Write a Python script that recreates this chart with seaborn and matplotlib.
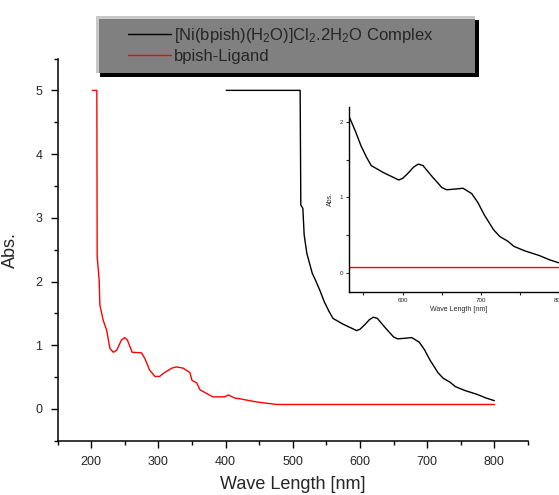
import matplotlib
matplotlib.use("Agg")
import matplotlib.pyplot as plt
from matplotlib.patches import Rectangle
import pandas as pd
import seaborn as sns

# UV-Vis spectra
complex_wl = [401, 511, 512, 515, 517, 521, 529, 533, 540, 547, 554, 560, 575, 595, 600,
              607, 614, 620, 626, 638, 650, 656, 668, 677, 688, 696, 704, 716, 724, 734,
              742, 756, 774, 788, 800]
complex_abs = [5.0, 5.0, 3.2, 3.15, 2.73, 2.44, 2.13, 2.04, 1.87, 1.68, 1.53, 1.42, 1.33, 1.23, 1.25,
               1.32, 1.40, 1.44, 1.42, 1.27, 1.13, 1.10, 1.11, 1.12, 1.05, 0.93, 0.77, 0.57, 0.48, 0.42,
               0.35, 0.29, 0.23, 0.17, 0.13]

ligand_wl = [202, 208.5, 209, 212, 213, 218, 223, 228, 233, 238, 245, 250, 254, 261, 275,
             280, 287, 295, 302, 309, 320, 327, 337, 347, 350, 357, 362, 369, 381, 399,
             404, 414, 421, 446, 476, 800]
ligand_abs = [5.0, 5.0, 2.39, 2.02, 1.63, 1.39, 1.24, 0.95, 0.89, 0.92, 1.08, 1.12, 1.08, 0.89, 0.88,
              0.79, 0.61, 0.51, 0.51, 0.57, 0.64, 0.66, 0.64, 0.57, 0.45, 0.41, 0.30, 0.26, 0.19, 0.19,
              0.22, 0.17, 0.16, 0.11, 0.07, 0.07]

complex_label = r"[Ni(bpish)(H$_2$O)]Cl$_2$.2H$_2$O Complex"
ligand_label = "bpish-Ligand"

sns.set_style("ticks")
plt.rcParams["font.family"] = ["Liberation Sans", "DejaVu Sans"]
plt.rcParams["mathtext.fontset"] = "custom"
plt.rcParams["mathtext.rm"] = "Liberation Sans"
plt.rcParams["mathtext.it"] = "Liberation Sans:italic"
plt.rcParams["mathtext.bf"] = "Liberation Sans:bold"

df_c = pd.DataFrame({"wl": complex_wl, "abs": complex_abs})
df_l = pd.DataFrame({"wl": ligand_wl, "abs": ligand_abs})

fig = plt.figure(figsize=(5.59, 4.95), dpi=100)
ax = fig.add_axes([0.1029, 0.1095, 0.8416, 0.7723])

sns.lineplot(data=df_c, x="wl", y="abs", ax=ax, color="black", lw=1.0,
             estimator=None, sort=False, label=complex_label)
sns.lineplot(data=df_l, x="wl", y="abs", ax=ax, color="red", lw=1.0,
             estimator=None, sort=False, label=ligand_label)
handles, labels = ax.get_legend_handles_labels()
ax.get_legend().remove()

ax.set_xlim(150, 850)
ax.set_ylim(-0.5, 5.5)
ax.set_xticks([200, 300, 400, 500, 600, 700, 800])
ax.set_xticks(range(150, 851, 50), minor=True)
ax.set_yticks([0, 1, 2, 3, 4, 5])
ax.set_yticks([-0.5, 0.5, 1.5, 2.5, 3.5, 4.5, 5.5], minor=True)
ax.tick_params(axis="both", which="major", direction="out", length=5, width=1, labelsize=9, color="black")
ax.tick_params(axis="both", which="minor", direction="out", length=3, width=1, color="black")
ax.tick_params(axis="x", pad=6)
ax.tick_params(axis="y", pad=6)
for s in ["top", "right"]:
    ax.spines[s].set_visible(False)
for s in ["left", "bottom"]:
    ax.spines[s].set_linewidth(1.1)
    ax.spines[s].set_color("black")
ax.set_xlabel("Wave Length [nm]", fontsize=13, labelpad=6)
ax.set_ylabel("Abs.", fontsize=13, labelpad=12)

# legend box with bevel and shadow
W, H = 559, 495
fig.add_artist(Rectangle((100 / W, 1 - 77 / H), 379 / W, 57 / H, transform=fig.transFigure,
                         facecolor="black", edgecolor="none", zorder=5))
fig.add_artist(Rectangle((96 / W, 1 - 73 / H), 379 / W, 57 / H, transform=fig.transFigure,
                         facecolor="#c8c8c8", edgecolor="none", zorder=6))
fig.add_artist(Rectangle((99 / W, 1 - 73 / H), 376 / W, 54 / H, transform=fig.transFigure,
                         facecolor="#808080", edgecolor="none", zorder=7))
leg = fig.legend(handles, labels, loc="upper left", bbox_to_anchor=(116 / W, 1 - 14 / H),
                 bbox_transform=fig.transFigure, frameon=False, fontsize=12,
                 handlelength=2.6, handletextpad=0.15, labelspacing=0.25, borderpad=0.2)
leg.set_zorder(8)
for line in leg.get_lines():
    line.set_linewidth(1.0)

# inset with the complex's visible bands
inset = fig.add_axes([349.3 / W, 1 - 291.7 / H, 218 / W, 185 / H])
sns.lineplot(data=df_c, x="wl", y="abs", ax=inset, color="black", lw=1.0,
             estimator=None, sort=False, legend=False)
sns.lineplot(data=df_l, x="wl", y="abs", ax=inset, color="red", lw=1.0,
             estimator=None, sort=False, legend=False)
inset.set_xlim(532, 810)
inset.set_ylim(-0.25, 2.2)
inset.set_xticks([600, 700, 800])
inset.set_xticks([550, 650, 750], minor=True)
inset.set_yticks([0, 1, 2])
inset.set_yticks([0.5, 1.5], minor=True)
inset.tick_params(axis="both", which="both", direction="out", length=2.5, width=0.8,
                  labelsize=4.5, pad=2)
for s in ["top", "right"]:
    inset.spines[s].set_visible(False)
for s in ["left", "bottom"]:
    inset.spines[s].set_linewidth(1.0)
    inset.spines[s].set_color("black")
inset.set_xlabel("Wave Length [nm]", fontsize=5, labelpad=2)
inset.set_ylabel("Abs.", fontsize=5, labelpad=4)
inset.patch.set_alpha(0)

fig.savefig("out.png", dpi=100)
